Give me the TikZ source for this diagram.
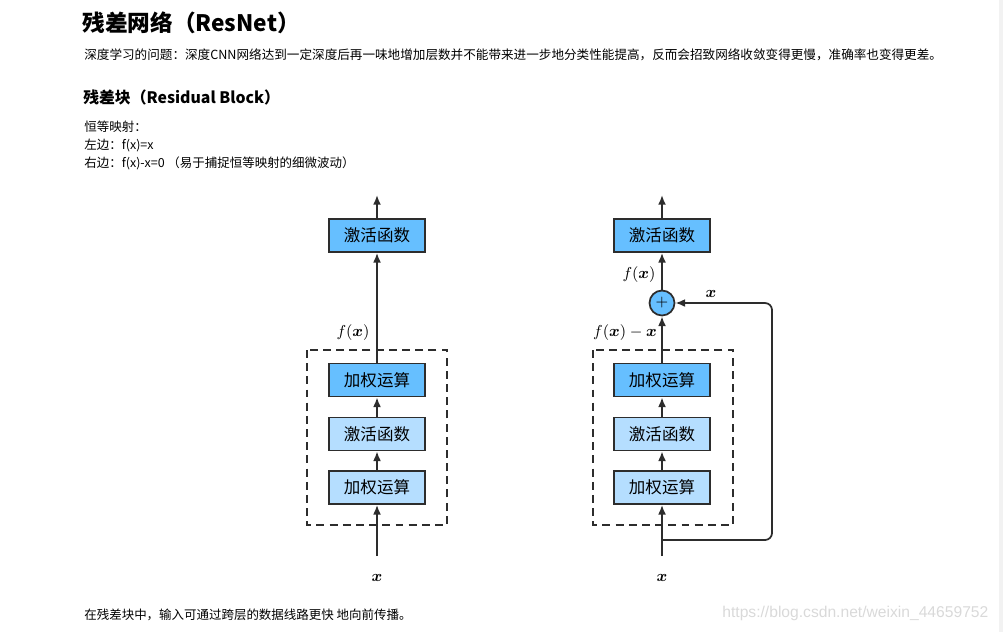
\documentclass[tikz,border=0pt]{standalone}
\usepackage{amsmath}
\usepackage{fontspec}
\setmainfont{Noto Sans CJK SC}
\newfontfamily\markfont{Liberation Sans}
\usetikzlibrary{arrows.meta}
\definecolor{deepblue}{RGB}{102,191,255}
\definecolor{paleblue}{RGB}{181,222,255}
\definecolor{edgegray}{RGB}{45,45,45}

\begin{document}
\begin{tikzpicture}[x=0.02cm,y=-0.02cm,
    layerbox/.style={draw=edgegray,line width=1pt,minimum width=1.92cm,minimum height=0.66cm,
        inner sep=0pt,font=\fontsize{9.4}{10}\selectfont},
    flow/.style={-{Latex[length=5.5pt,width=4.5pt]},line width=1pt,draw=edgegray},
    blockframe/.style={draw=edgegray,line width=1pt,dash pattern=on 4.5pt off 3pt},
    mathlabel/.style={font=\fontsize{8.7}{10}\selectfont,inner sep=0pt},
    plain/.style={anchor=west,inner sep=0pt}]
    \useasboundingbox (0,0) rectangle (1003,632);
    \fill[gray!10] (999,0) rectangle (1003,632);

    % Texts
    \node[plain,font=\fontsize{12.9}{14}\selectfont\bfseries] (title) at (82,23) {残差网络（ResNet）};
    \node[plain,font=\fontsize{7.17}{9}\selectfont] (problem) at (84,55) {深度学习的问题：深度CNN网络达到一定深度后再一味地增加层数并不能带来进一步地分类性能提高，反而会招致网络收敛变得更慢，准确率也变得更差。};
    \node[plain,font=\fontsize{9}{11}\selectfont\bfseries] (subtitle) at (83,97) {残差块（Residual Block）};
    \node[plain,font=\fontsize{7.1}{9}\selectfont] (ident) at (84,127) {恒等映射：};
    \node[plain,font=\fontsize{7.1}{9}\selectfont] (leftside) at (84,145) {左边：f(x)=x};
    \node[plain,font=\fontsize{7.1}{9}\selectfont] (rightside) at (84,163) {右边：f(x)-x=0 （易于捕捉恒等映射的细微波动）};
    \node[plain,font=\fontsize{7.1}{9}\selectfont] (remark) at (84,615) {在残差块中，输入可通过跨层的数据线路更快 地向前传播。};
    \node[plain,font=\fontsize{8.9}{10}\markfont,text=gray!30] (mark) at (722,613) {https://blog.csdn.net/weixin\_44659752};

    % Left block
    \coordinate (lout) at (377,195);
    \coordinate (lin) at (377,556);
    \node[layerbox,fill=deepblue] (lact) at (377,235.5) {激活函数};
    \node[layerbox,fill=deepblue] (lwtop) at (377,380) {加权运算};
    \node[layerbox,fill=paleblue] (lmid) at (377,434) {激活函数};
    \node[layerbox,fill=paleblue] (lwbot) at (377,487.5) {加权运算};
    \draw[blockframe] (307,350) rectangle (447,525);
    \draw[flow] (lact.north) -- (lout);
    \draw[flow] (lwtop.north) -- (lact.south);
    \draw[flow] (lmid.north) -- (lwtop.south);
    \draw[flow] (lwbot.north) -- (lmid.south);
    \draw[flow] (lin) -- (lwbot.south);
    \node[mathlabel] (lfx) at (353,333) {$f(\boldsymbol{x})$};
    \node[mathlabel] (lx) at (377,578) {$\boldsymbol{x}$};

    % Right block
    \coordinate (rout) at (662,195);
    \coordinate (rin) at (662,556);
    \coordinate (rbranch) at (662,540);
    \coordinate (rskip) at (772,303);
    \node[layerbox,fill=deepblue] (ract) at (662,235.5) {激活函数};
    \node[draw=edgegray,line width=1pt,fill=deepblue,circle,minimum size=0.5cm,inner sep=0pt,
        font=\fontsize{9}{10}\selectfont] (plus) at (662,303) {$+$};
    \node[layerbox,fill=deepblue] (rwtop) at (662,380) {加权运算};
    \node[layerbox,fill=paleblue] (rmid) at (662,434) {激活函数};
    \node[layerbox,fill=paleblue] (rwbot) at (662,487.5) {加权运算};
    \draw[blockframe] (593,350) rectangle (733,525);
    \draw[flow] (ract.north) -- (rout);
    \draw[flow] (plus.north) -- (ract.south);
    \draw[flow] (rwtop.north) -- (plus.south);
    \draw[flow] (rmid.north) -- (rwtop.south);
    \draw[flow] (rwbot.north) -- (rmid.south);
    \draw[flow] (rin) -- (rwbot.south);
    \draw[flow,rounded corners=4pt] (rbranch) -| (rskip) -- (plus.east);
    \node[mathlabel] (rfx) at (639,275) {$f(\boldsymbol{x})$};
    \node[mathlabel] (rdiff) at (625,333) {$f(\boldsymbol{x})-\boldsymbol{x}$};
    \node[mathlabel] (rx) at (711,294) {$\boldsymbol{x}$};
    \node[mathlabel] (rxin) at (662,578) {$\boldsymbol{x}$};
\end{tikzpicture}
\end{document}
